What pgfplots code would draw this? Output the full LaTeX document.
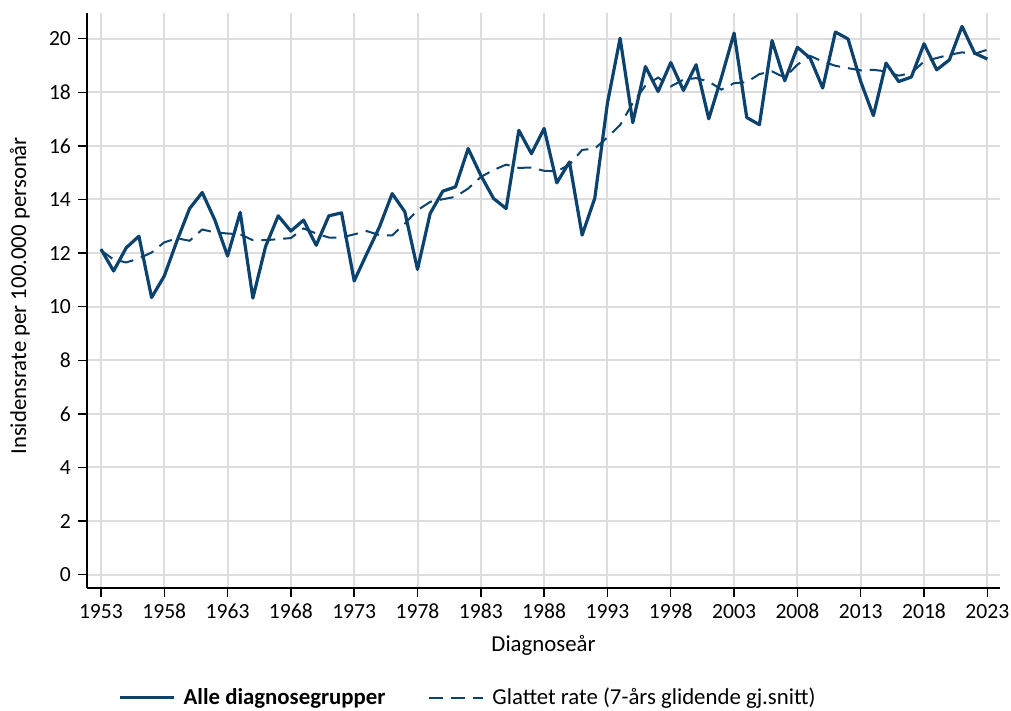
\documentclass[border=0pt]{standalone}
\usepackage{fontspec}
\setmainfont{Carlito}
\usepackage{pgfplots}
\usepackage{pgfplotstable}
\pgfplotsset{compat=1.18}
\definecolor{navy}{RGB}{12,66,110}
\definecolor{gridc}{RGB}{221,221,221}
\pgfplotstableread{
year solid dashed
1953 12.15 12.10
1954 11.33 11.76
1955 12.20 11.65
1956 12.63 11.80
1957 10.34 12.02
1958 11.14 12.40
1959 12.45 12.55
1960 13.66 12.46
1961 14.26 12.88
1962 13.23 12.77
1963 11.89 12.73
1964 13.52 12.70
1965 10.32 12.48
1966 12.24 12.48
1967 13.39 12.52
1968 12.82 12.56
1969 13.23 12.92
1970 12.29 12.73
1971 13.39 12.58
1972 13.50 12.58
1973 10.96 12.70
1974 11.98 12.82
1975 12.98 12.67
1976 14.22 12.66
1977 13.54 13.10
1978 11.39 13.60
1979 13.48 13.91
1980 14.31 14.01
1981 14.47 14.10
1982 15.90 14.41
1983 14.90 14.84
1984 14.04 15.10
1985 13.66 15.30
1986 16.58 15.18
1987 15.71 15.19
1988 16.65 15.07
1989 14.62 15.05
1990 15.40 15.30
1991 12.67 15.85
1992 14.05 15.90
1993 17.60 16.32
1994 20.02 16.78
1995 16.87 17.60
1996 18.96 18.25
1997 18.03 18.55
1998 19.11 18.22
1999 18.07 18.47
2000 19.03 18.53
2001 17.01 18.40
2002 18.55 18.10
2003 20.21 18.34
2004 17.06 18.38
2005 16.79 18.68
2006 19.93 18.78
2007 18.43 18.55
2008 19.68 19.03
2009 19.28 19.36
2010 18.16 19.15
2011 20.25 18.99
2012 19.99 18.90
2013 18.40 18.82
2014 17.13 18.84
2015 19.09 18.78
2016 18.40 18.62
2017 18.57 18.72
2018 19.81 19.15
2019 18.84 19.28
2020 19.21 19.40
2021 20.46 19.49
2022 19.46 19.44
2023 19.24 19.59
}\datatable
\begin{document}
\begin{tikzpicture}
\useasboundingbox (-43.5pt,-61.5pt) rectangle (462pt,294pt);
\begin{axis}[
  at={(0pt,0pt)}, anchor=south west,
  scale only axis,
  width=456.5pt, height=287.5pt,
  xmin=1951.9, xmax=2024.0,
  ymin=-0.5, ymax=20.96,
  axis x line*=bottom, axis y line*=left,
  axis line style={line width=0.7pt, black},
  xtick={1953,1958,...,2023},
  ytick={0,2,...,20},
  tick align=outside,
  major tick length=4.5pt,
  tick style={line width=0.7pt, black},
  grid=major,
  major grid style={gridc, line width=1pt},
  /pgf/number format/assume math mode=true,
  /pgf/number format/1000 sep={},
  ticklabel style={font=\fontsize{10.8}{13}\selectfont},
  xlabel={Diagnoseår},
  ylabel={Insidensrate per 100.000 personår},
  label style={font=\fontsize{11.4}{13.7}\selectfont},
  xlabel style={at={(axis description cs:0.5,0)}, anchor=center, yshift=-28.5pt},
  ylabel style={at={(axis description cs:-0.0734,0.508)}, anchor=center, rotate=0},
  legend columns=2,
  legend style={draw=none, fill=none, at={(0.0274,-0.191)}, anchor=west,
    font=\fontsize{11.4}{13.7}\selectfont,
    /tikz/every odd column/.append style={column sep=2pt},
    /tikz/every even column/.append style={column sep=19.5pt}},
  legend image code/.code={\draw[#1] (0pt,0pt) -- (27pt,0pt);},
  clip=false,
]
\addplot[navy, line width=1.6pt, line join=round] table[x=year, y=solid] {\datatable};
\addlegendentry{\textbf{Alle diagnosegrupper}}
\addplot[navy, line width=1pt, dash pattern=on 7pt off 4pt] table[x=year, y=dashed] {\datatable};
\addlegendentry{Glattet rate (7-års glidende gj.snitt)}
\end{axis}
\end{tikzpicture}
\end{document}
